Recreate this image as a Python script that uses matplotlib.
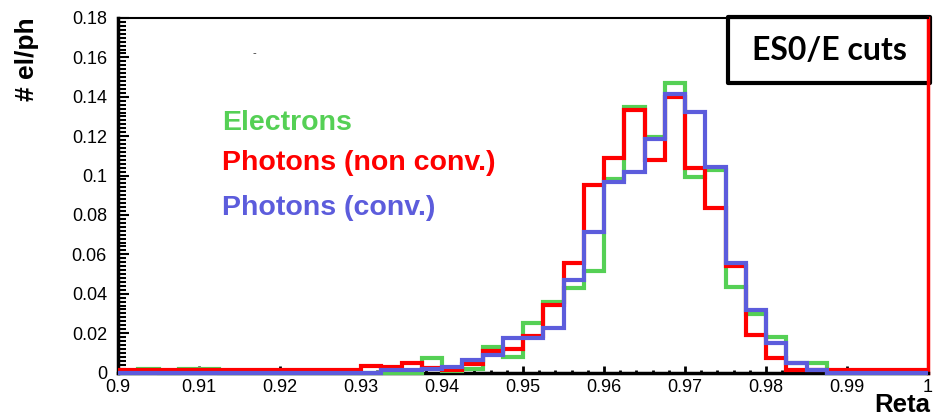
import numpy as np
import matplotlib
matplotlib.use("Agg")
import matplotlib.pyplot as plt
from matplotlib.patches import Rectangle
from matplotlib.ticker import MultipleLocator, FuncFormatter

plt.rcParams['font.family'] = ['Liberation Sans', 'DejaVu Sans']

# 40 bins of Reta, 0.9 -> 1.0, width 0.0025
bin_lo = 0.9
bin_width = 0.0025
n_bins = 40

electrons = [0, 0.002, 0, 0.002, 0.002, 0, 0, 0, 0, 0,
             0, 0, 0, 0, 0, 0.0075, 0.001, 0.002, 0.0127, 0.0078,
             0.0252, 0.0356, 0.043, 0.0515, 0.098, 0.1346, 0.1196, 0.1472, 0.0992, 0.103,
             0.0435, 0.0299, 0.0178, 0.0047, 0.005, 0, 0, 0, 0, 0]

photons_nonconv = [0.0015, 0.0015, 0.0015, 0.0015, 0.0015, 0.0015, 0.0015, 0.0015, 0.0015, 0.0015,
                   0.0015, 0.0015, 0.0033, 0.003, 0.0048, 0.0021, 0.0015, 0.0043, 0.0111, 0.0118,
                   0.0185, 0.0342, 0.0558, 0.0952, 0.1089, 0.1332, 0.108, 0.14, 0.1038, 0.0836,
                   0.054, 0.0192, 0.0072, 0.0015, 0.0015, 0.0015, 0.0015, 0.0015, 0.0015, 0.0015]

photons_conv = [0, 0, 0, 0, 0, 0, 0, 0, 0, 0,
                0, 0, 0, 0.0012, 0.0012, 0.0018, 0.0027, 0.0062, 0.0089, 0.0175,
                0.0175, 0.0226, 0.0472, 0.0711, 0.0969, 0.1017, 0.1187, 0.1414, 0.1324, 0.1043,
                0.0558, 0.0319, 0.0152, 0.0047, 0.0012, 0, 0, 0, 0, 0]

edges = bin_lo + bin_width * np.arange(n_bins + 1)

green = '#55d055'
red = '#ff0000'
blue = '#5c5cdc'

fig = plt.figure(figsize=(9.35, 4.17), dpi=100)
ax = fig.add_axes([118/935, 44.5/417, 810/935, 354.5/417])

for vals, col in [(electrons, green), (photons_nonconv, red), (photons_conv, blue)]:
    ax.stairs(vals, edges, color=col, linewidth=3, baseline=None, zorder=3, clip_on=False)

ax.set_xlim(0.9, 1.0)
ax.set_ylim(0, 0.18)

ax.xaxis.set_major_locator(MultipleLocator(0.01))
ax.xaxis.set_minor_locator(MultipleLocator(0.002))
ax.yaxis.set_major_locator(MultipleLocator(0.02))
ax.yaxis.set_minor_locator(MultipleLocator(0.002))
fmt = FuncFormatter(lambda v, p: '%g' % round(v, 3))
ax.xaxis.set_major_formatter(fmt)
ax.yaxis.set_major_formatter(fmt)

ax.tick_params(axis='x', which='major', direction='in', length=5, width=2, pad=5, labelsize=13)
ax.tick_params(axis='x', which='minor', direction='in', length=2.5, width=2)
ax.tick_params(axis='y', which='major', direction='in', length=8, width=1.5, pad=8, labelsize=13)
ax.tick_params(axis='y', which='minor', direction='in', length=6, width=1.5)
ax.tick_params(top=False, right=False)

ax.spines['left'].set_linewidth(2.5)
ax.spines['bottom'].set_linewidth(2.5)
ax.spines['top'].set_linewidth(1.5)
ax.spines['right'].set_linewidth(2.5)
ax.spines['right'].set_color(red)

# axis titles
fig.text(930/935, 1 - 412/417, 'Reta', ha='right', va='baseline', fontsize=18.5, fontweight='bold')
fig.text(27/935, 1 - 17/417, '# el/ph', rotation=90, ha='center', va='top', fontsize=19, fontweight='bold')

# legend text
fig.text(222/935, 1 - 130/417, 'Electrons', color=green, fontsize=20.5, fontweight='bold', va='baseline')
fig.text(222/935, 1 - 170/417, 'Photons (non conv.)', color=red, fontsize=20.5, fontweight='bold', va='baseline')
fig.text(222/935, 1 - 215/417, 'Photons (conv.)', color=blue, fontsize=20.5, fontweight='bold', va='baseline')
fig.text(254/935, 1 - 53/417, '-', color='#333333', fontsize=8, ha='center', va='center')

# cut label box
box = Rectangle((728/935, 1 - 83/417), 202/935, 66/417, transform=fig.transFigure,
                facecolor='white', edgecolor='black', linewidth=3, joinstyle='round',
                zorder=2, clip_on=False)
ax.add_artist(box)
ax.text(829/935, 1 - 51/417, 'ES0/E cuts', transform=fig.transFigure, ha='center', va='center',
        fontsize=23, fontweight='bold', family=['Lato', 'DejaVu Sans'], zorder=4)

fig.savefig('out.png', dpi=100)
